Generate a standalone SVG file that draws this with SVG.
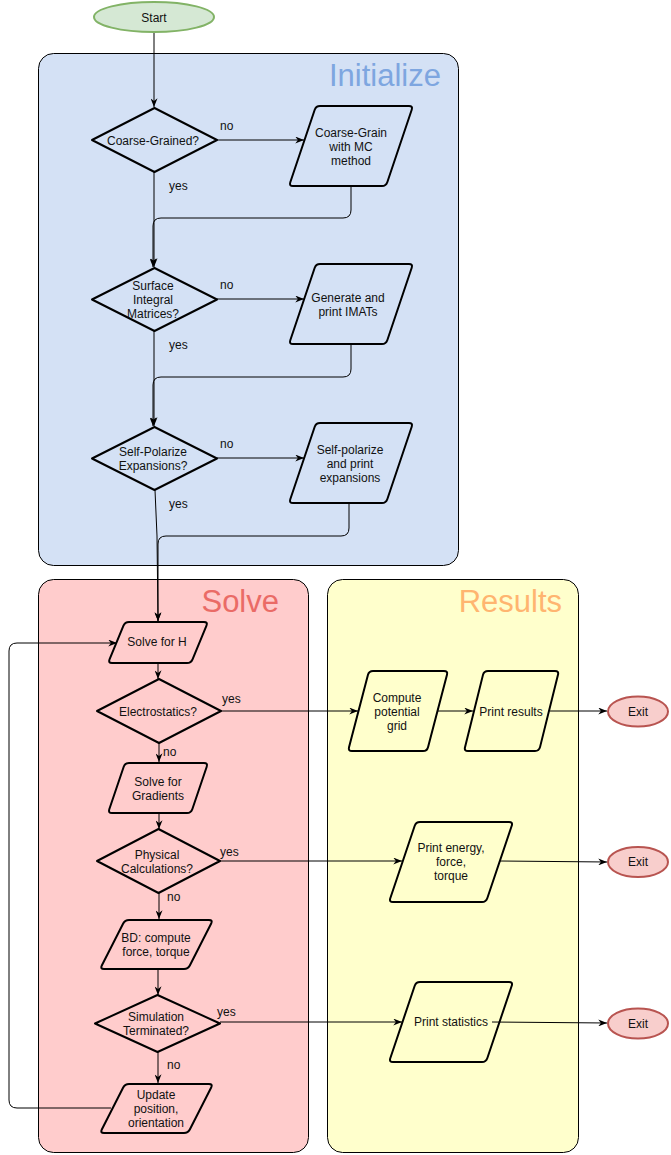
<svg xmlns="http://www.w3.org/2000/svg" width="671" height="1155" viewBox="0 0 671 1155">
<style>
text{font-family:"Liberation Sans",Arial,sans-serif;font-size:12px;fill:#111;text-anchor:middle}
.lbl{text-anchor:start}
.title{font-size:31px;text-anchor:end}
.sh{fill:none;stroke:#000;stroke-width:2;stroke-linejoin:round}
.cn{fill:none;stroke:#000;stroke-width:1}
</style>
<defs>
<marker id="ar" viewBox="0 0 10 8" markerWidth="9" markerHeight="7" refX="10" refY="4" orient="auto" markerUnits="userSpaceOnUse">
<path d="M0,0 L10,4 L0,8 L3,4 Z" fill="#000"/>
</marker>
<path id="pL" d="M31,0 L120,0 Q124,0 122.72,3.79 L98.28,76.21 Q97,80 93,80 L4,80 Q0,80 1.28,76.21 L25.72,3.79 Q27,0 31,0 Z"/>
<path id="pC" d="M25,0 L96,0 Q100,0 98.98,3.87 L80.02,76.13 Q79,80 75,80 L4,80 Q0,80 1.02,76.13 L19.98,3.87 Q21,0 25,0 Z"/>
<path id="pR" d="M24,0 L91,0 Q95,0 93.98,3.87 L76.02,76.13 Q75,80 71,80 L4,80 Q0,80 1.02,76.13 L18.98,3.87 Q20,0 24,0 Z"/>
<path id="pH" d="M21,0 L96,0 Q100,0 98.47,3.69 L84.53,37.31 Q83,41 79,41 L4,41 Q0,41 1.53,37.31 L15.47,3.69 Q17,0 21,0 Z"/>
<path id="pG" d="M21,0 L96,0 Q100,0 98.71,3.79 L84.29,46.21 Q83,50 79,50 L4,50 Q0,50 1.29,46.21 L15.71,3.79 Q17,0 21,0 Z"/>
<path id="pB" d="M29,0 L109,0 Q113,0 111.18,3.56 L89.82,45.44 Q88,49 84,49 L4,49 Q0,49 1.82,45.44 L23.18,3.56 Q25,0 29,0 Z"/>
</defs>

<g id="containers">
<g id="initialize">
<rect x="38.5" y="53.5" width="420" height="512" rx="15" fill="#d4e1f5" stroke="#000"/>
<text class="title" x="441" y="86" style="fill:#7ea6e0">Initialize</text>
</g>
<g id="solve">
<rect x="38.5" y="579.5" width="270" height="573" rx="15" fill="#ffcccc" stroke="#000"/>
<text class="title" x="279" y="612" style="fill:#ea6b66">Solve</text>
</g>
<g id="results">
<rect x="327.5" y="579.5" width="251" height="573" rx="15" fill="#ffffcc" stroke="#000"/>
<text class="title" x="562" y="612" style="fill:#ffb570">Results</text>
</g>
</g>

<g id="connectors">
<path class="cn" d="M154,32 L154,107" marker-end="url(#ar)"/>
<path class="cn" d="M217,140 L304,140" marker-end="url(#ar)"/>
<path class="cn" d="M154,172 L154,267" marker-end="url(#ar)"/>
<path class="cn" d="M351,186 L351,210 Q351,218 343,218 L161,218 Q153,218 153,226 L153,267" marker-end="url(#ar)"/>
<path class="cn" d="M217,299 L304,299" marker-end="url(#ar)"/>
<path class="cn" d="M154,331 L154,426" marker-end="url(#ar)"/>
<path class="cn" d="M351,344 L351,369 Q351,377 343,377 L161,377 Q153,377 153,385 L153,426" marker-end="url(#ar)"/>
<path class="cn" d="M217,458 L304,458" marker-end="url(#ar)"/>
<path class="cn" d="M155,490 L157,536 L158,621" marker-end="url(#ar)"/>
<path class="cn" d="M349,503 L349,528 Q349,536 341,536 L166,536 Q158,536 158,544 L158,621" marker-end="url(#ar)"/>
<path class="cn" d="M158,663 L158,679" marker-end="url(#ar)"/>
<path class="cn" d="M221,711 L358,711" marker-end="url(#ar)"/>
<path class="cn" d="M438,711 L473,711" marker-end="url(#ar)"/>
<path class="cn" d="M550,711 L607,711" marker-end="url(#ar)"/>
<path class="cn" d="M159,743 L159,762" marker-end="url(#ar)"/>
<path class="cn" d="M159,813 L159,829" marker-end="url(#ar)"/>
<path class="cn" d="M220,861 L402,861" marker-end="url(#ar)"/>
<path class="cn" d="M500,861 L607,862" marker-end="url(#ar)"/>
<path class="cn" d="M159,893 L159,919" marker-end="url(#ar)"/>
<path class="cn" d="M158,969 L158,995" marker-end="url(#ar)"/>
<path class="cn" d="M220,1022 L402,1022" marker-end="url(#ar)"/>
<path class="cn" d="M492,1022 L607,1023" marker-end="url(#ar)"/>
<path class="cn" d="M158,1052 L158,1083" marker-end="url(#ar)"/>
<path class="cn" d="M111,1108 L17,1108 Q9,1108 9,1100 L9,651 Q9,643 17,643 L117,643" marker-end="url(#ar)"/>
<text class="lbl" x="220" y="130">no</text>
<text class="lbl" x="169" y="190">yes</text>
<text class="lbl" x="220" y="289">no</text>
<text class="lbl" x="169" y="349">yes</text>
<text class="lbl" x="220" y="448">no</text>
<text class="lbl" x="169" y="508">yes</text>
<text class="lbl" x="222" y="703">yes</text>
<text class="lbl" x="163" y="756">no</text>
<text class="lbl" x="220" y="856">yes</text>
<text class="lbl" x="167" y="901">no</text>
<text class="lbl" x="217" y="1016">yes</text>
<text class="lbl" x="167" y="1069">no</text>
</g>

<g id="start">
<ellipse cx="154" cy="17" rx="60" ry="15" fill="#d5e8d4" stroke="#82b366" stroke-width="2"/>
<text x="154" y="22">Start</text>
</g>
<g id="coarse-grained">
<polygon class="sh" points="154.5,108 217,140 154.5,172 92,140" fill="none"/>
<text x="153" y="145">Coarse-Grained?</text>
</g>
<g id="coarse-grain">
<use href="#pL" x="289" y="106" class="sh"/>
<text x="351" y="137">Coarse-Grain</text>
<text x="351" y="151">with MC</text>
<text x="351" y="165">method</text>
</g>
<g id="surface-integral">
<polygon class="sh" points="154.5,268 217,299.5 154.5,331 92,299.5"/>
<text x="153" y="290">Surface</text>
<text x="153" y="304">Integral</text>
<text x="153" y="318">Matrices?</text>
</g>
<g id="generate-imats">
<use href="#pL" x="289" y="264" class="sh"/>
<text x="348" y="302">Generate and</text>
<text x="348" y="316">print IMATs</text>
</g>
<g id="self-polarize-q">
<polygon class="sh" points="154.5,427 217,458.5 154.5,490 92,458.5"/>
<text x="153" y="456">Self-Polarize</text>
<text x="153" y="470">Expansions?</text>
</g>
<g id="self-polarize">
<use href="#pL" x="289" y="423" class="sh"/>
<text x="350" y="454">Self-polarize</text>
<text x="350" y="468">and print</text>
<text x="350" y="482">expansions</text>
</g>
<g id="solve-h">
<use href="#pH" x="108" y="622" class="sh"/>
<text x="157" y="646">Solve for H</text>
</g>
<g id="electrostatics">
<polygon class="sh" points="159,679 221,711 159,743 97,711"/>
<text x="158" y="716">Electrostatics?</text>
</g>
<g id="solve-gradients">
<use href="#pG" x="108" y="763" class="sh"/>
<text x="158" y="786">Solve for</text>
<text x="158" y="800">Gradients</text>
</g>
<g id="physical">
<polygon class="sh" points="158.5,829 220,861 158.5,893 97,861"/>
<text x="157" y="859">Physical</text>
<text x="157" y="873">Calculations?</text>
</g>
<g id="bd">
<use href="#pB" x="100" y="920" class="sh"/>
<text x="156" y="942">BD: compute</text>
<text x="156" y="956">force, torque</text>
</g>
<g id="simulation">
<polygon class="sh" points="157.5,995 220,1023.5 157.5,1052 95,1023.5"/>
<text x="156" y="1021">Simulation</text>
<text x="156" y="1035">Terminated?</text>
</g>
<g id="update">
<use href="#pB" x="100" y="1084" class="sh"/>
<text x="156" y="1099">Update</text>
<text x="156" y="1113">position,</text>
<text x="156" y="1127">orientation</text>
</g>
<g id="compute-grid">
<use href="#pC" x="348" y="671" class="sh"/>
<text x="397" y="702">Compute</text>
<text x="397" y="716">potential</text>
<text x="397" y="730">grid</text>
</g>
<g id="print-results">
<use href="#pR" x="464" y="671" class="sh"/>
<text x="511" y="716">Print results</text>
</g>
<g id="print-energy">
<use href="#pL" x="389" y="822" class="sh"/>
<text x="451" y="852">Print energy,</text>
<text x="451" y="866">force,</text>
<text x="451" y="880">torque</text>
</g>
<g id="print-statistics">
<use href="#pL" x="389" y="982" class="sh"/>
<text x="451" y="1026">Print statistics</text>
</g>
<g id="exit1">
<ellipse cx="638" cy="711.5" rx="30" ry="15" fill="#f8cecc" stroke="#b85450" stroke-width="2"/>
<text x="638" y="716">Exit</text>
</g>
<g id="exit2">
<ellipse cx="638" cy="862" rx="30" ry="15" fill="#f8cecc" stroke="#b85450" stroke-width="2"/>
<text x="638" y="866">Exit</text>
</g>
<g id="exit3">
<ellipse cx="638" cy="1023.5" rx="30" ry="15" fill="#f8cecc" stroke="#b85450" stroke-width="2"/>
<text x="638" y="1028">Exit</text>
</g>
</svg>
